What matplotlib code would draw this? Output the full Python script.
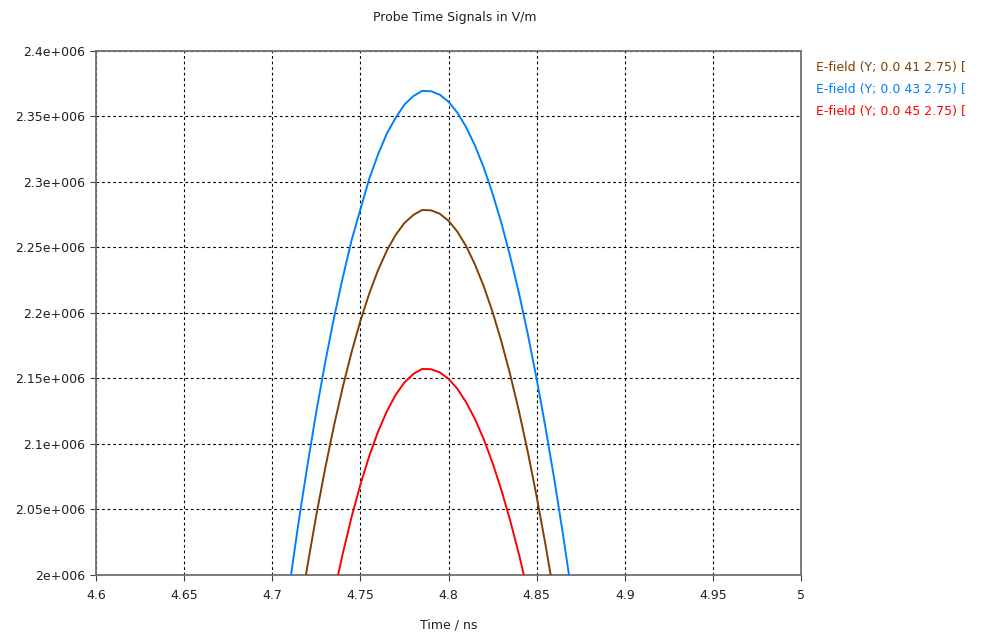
import numpy as np
import matplotlib.pyplot as plt

# time axis (ns) and probe signals (V/m)
t_blue = [4.70, 4.705, 4.71, 4.715, 4.72, 4.725, 4.73, 4.735, 4.74, 4.745, 4.75,
          4.755, 4.76, 4.765, 4.77, 4.775, 4.78, 4.785, 4.79, 4.795, 4.80, 4.805,
          4.81, 4.815, 4.82, 4.825, 4.83, 4.835, 4.84, 4.845, 4.85, 4.855, 4.86,
          4.865, 4.87, 4.875, 4.88]
e_blue = [1.892e6, 1.9446e6, 1.994e6, 2.0408e6, 2.084e6, 2.1247e6, 2.162e6,
          2.1962e6, 2.227e6, 2.2555e6, 2.279e6, 2.3023e6, 2.321e6, 2.3369e6,
          2.349e6, 2.3591e6, 2.3655e6, 2.3695e6, 2.3693e6, 2.3667e6, 2.3613e6,
          2.353e6, 2.3418e6, 2.3278e6, 2.311e6, 2.2912e6, 2.2687e6, 2.2432e6,
          2.215e6, 2.1838e6, 2.1498e6, 2.1129e6, 2.0732e6, 2.0306e6, 1.985e6,
          1.9368e6, 1.886e6]

t_brown = [4.71, 4.715, 4.72, 4.725, 4.73, 4.735, 4.74, 4.745, 4.75, 4.755,
           4.76, 4.765, 4.77, 4.775, 4.78, 4.785, 4.79, 4.795, 4.80, 4.805,
           4.81, 4.815, 4.82, 4.825, 4.83, 4.835, 4.84, 4.845, 4.85, 4.855,
           4.86, 4.865, 4.87]
e_brown = [1.9216e6, 1.9659e6, 2.0072e6, 2.0457e6, 2.0812e6, 2.1138e6, 2.1434e6,
           2.1701e6, 2.1939e6, 2.2147e6, 2.2326e6, 2.2476e6, 2.2596e6, 2.2687e6,
           2.2748e6, 2.2786e6, 2.2784e6, 2.2758e6, 2.2704e6, 2.2622e6, 2.2511e6,
           2.2371e6, 2.2204e6, 2.2008e6, 2.1783e6, 2.153e6, 2.1249e6, 2.0939e6,
           2.0600e6, 2.0234e6, 1.9838e6, 1.9415e6, 1.8963e6]

t_red = [4.73, 4.735, 4.74, 4.745, 4.75, 4.755, 4.76, 4.765, 4.77, 4.775,
         4.78, 4.785, 4.79, 4.795, 4.80, 4.805, 4.81, 4.815, 4.82, 4.825,
         4.83, 4.835, 4.84, 4.845, 4.85]
e_red = [1.9514e6, 1.9854e6, 2.0163e6, 2.0442e6, 2.0689e6, 2.0907e6, 2.1093e6,
         2.1249e6, 2.1375e6, 2.1470e6, 2.1534e6, 2.1573e6, 2.1571e6, 2.1547e6,
         2.1498e6, 2.1422e6, 2.1319e6, 2.1191e6, 2.1037e6, 2.0856e6, 2.0649e6,
         2.0416e6, 2.0157e6, 1.9871e6, 1.956e6]

labels = ["E-field (Y; 0.0 41 2.75) [",
          "E-field (Y; 0.0 43 2.75) [",
          "E-field (Y; 0.0 45 2.75) ["]
colors = ["#804000", "#0080FF", "#FF0000"]

x_ticks = [4.6, 4.65, 4.7, 4.75, 4.8, 4.85, 4.9, 4.95, 5.0]
x_tick_labels = ["4.6", "4.65", "4.7", "4.75", "4.8", "4.85", "4.9", "4.95", "5"]
y_ticks = [2.0e6, 2.05e6, 2.1e6, 2.15e6, 2.2e6, 2.25e6, 2.3e6, 2.35e6, 2.4e6]
y_tick_labels = ["2e+006", "2.05e+006", "2.1e+006", "2.15e+006", "2.2e+006",
                 "2.25e+006", "2.3e+006", "2.35e+006", "2.4e+006"]

plt.rcParams['font.family'] = 'DejaVu Sans'
fig = plt.figure(figsize=(9.84, 6.33), dpi=100)
ax = fig.add_axes([96 / 984, 1 - 575 / 633, 705 / 984, 524 / 633])

series = [(t_brown, e_brown), (t_blue, e_blue), (t_red, e_red)]
for (t, e), c in zip(series, colors):
    ax.plot(t, e, color=c, lw=1.4, zorder=3)

ax.set_xlim(4.6, 5.0)
ax.set_ylim(2.0e6, 2.4e6)
ax.set_xticks(x_ticks)
ax.set_xticklabels(x_tick_labels, fontsize=9)
ax.set_yticks(y_ticks)
ax.set_yticklabels(y_tick_labels, fontsize=9)
ax.tick_params(length=4, width=0.8, color='#404040', labelcolor='#202020')
ax.tick_params(axis='x', pad=6)
ax.grid(True, color='black', linestyle=(0, (2.5, 2.5)), linewidth=0.8)
for s in ax.spines.values():
    s.set_color('#707070')
    s.set_linewidth(1.3)

ax.set_xlabel("Time / ns", fontsize=9, color='#202020', labelpad=12)
fig.text(455 / 984, 1 - 18 / 633, "Probe Time Signals in V/m", fontsize=9,
         ha='center', va='center', color='#202020')

for i, (lab, c) in enumerate(zip(labels, colors)):
    fig.text(816 / 984, 1 - (67 + 22 * i) / 633, lab, fontsize=9, color=c,
             ha='left', va='center')

fig.savefig("out.png", dpi=100)
